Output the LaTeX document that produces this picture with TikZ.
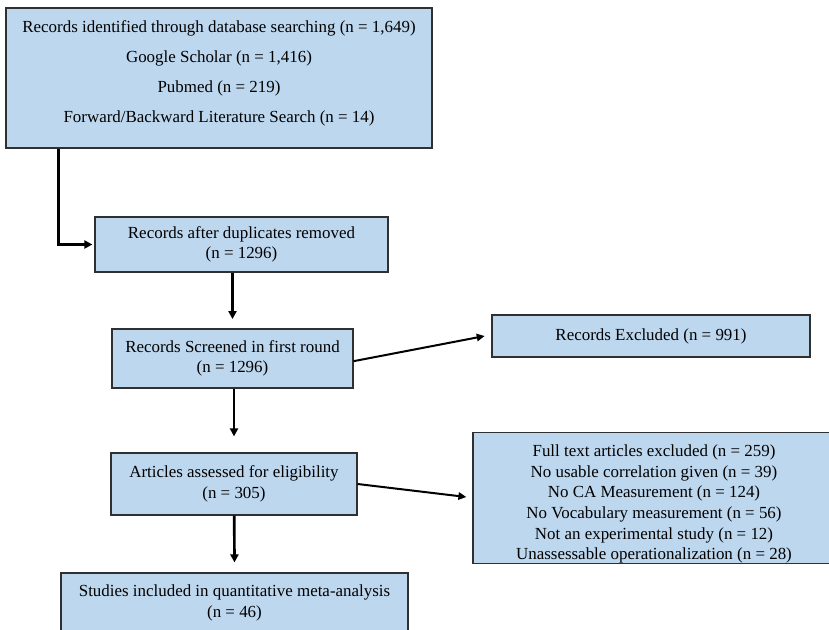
\documentclass[tikz,border=0pt]{standalone}
\usepackage{fontspec}
\setmainfont{Liberation Serif}
\usetikzlibrary{arrows.meta}
\definecolor{boxblue}{HTML}{BDD7EE}
\definecolor{boxline}{HTML}{303030}

\begin{document}
\begin{tikzpicture}[x=0.75pt, y=-0.75pt,
  box/.style={draw=boxline, line width=0.9pt, fill=boxblue, align=center, inner sep=0pt, font=\fontsize{12.7}{15.5}\selectfont},
  flow/.style={-{Triangle[length=6pt,width=6pt]}, line width=2pt},
  side/.style={-{Triangle[length=6pt,width=5.5pt]}, line width=1.5pt}]
\useasboundingbox (0,0) rectangle (829,629);
% boxes
\node (ident) [box, minimum width=319.5pt, minimum height=105pt, text depth=10pt, font=\fontsize{12.7}{22.5}\selectfont] at (219,78) {Records identified through database searching (n = 1,649)\\ Google Scholar (n = 1,416)\\ Pubmed (n = 219)\\ Forward/Backward Literature Search (n = 14)};
\node (dedup) [box, minimum width=219.75pt, minimum height=41.25pt] at (241.5,244.5) {Records after duplicates removed\\ (n = 1296)};
\node (screen) [box, minimum width=180.75pt, minimum height=44.25pt] at (232.5,358.5) {Records Screened in first round\\ (n = 1296)};
\node (excl) [box, minimum width=238.5pt, minimum height=31.5pt] at (651,336) {Records Excluded (n = 991)};
\node (elig) [box, minimum width=184.5pt, minimum height=46.5pt] at (234,484) {Articles assessed for eligibility\\ (n = 305)};
\node (fulltext) [box, minimum width=271.5pt, minimum height=97.5pt] at (654,498) {\rule{0pt}{18pt}Full text articles excluded (n = 259)\\ No usable correlation given (n = 39)\\ No CA Measurement (n = 124)\\ No Vocabulary measurement (n = 56)\\ Not an experimental study (n = 12)\\ Unassessable operationalization (n = 28)};
\node (incl) [box, minimum width=260.25pt, minimum height=45pt] at (234.5,603) {Studies included in quantitative meta-analysis\\ (n = 46)};
% arrows
\draw[flow] ([xshift=39.75pt]ident.south west) |- ([xshift=-1.5pt]dedup.west);
\draw[flow] (dedup.south -| screen.north) -- ([yshift=7pt]screen.north);
\draw[side] ([yshift=-2pt]screen.east) -- ([xshift=-5pt]excl.west);
\draw[flow] (screen.south -| elig.north) -- ([yshift=12pt]elig.north);
\draw[side] (elig.east) -- ([xshift=-4.5pt,yshift=0.75pt]fulltext.west);
\draw[flow] (elig) -- ([yshift=7.5pt]incl.north);
\end{tikzpicture}
\end{document}
